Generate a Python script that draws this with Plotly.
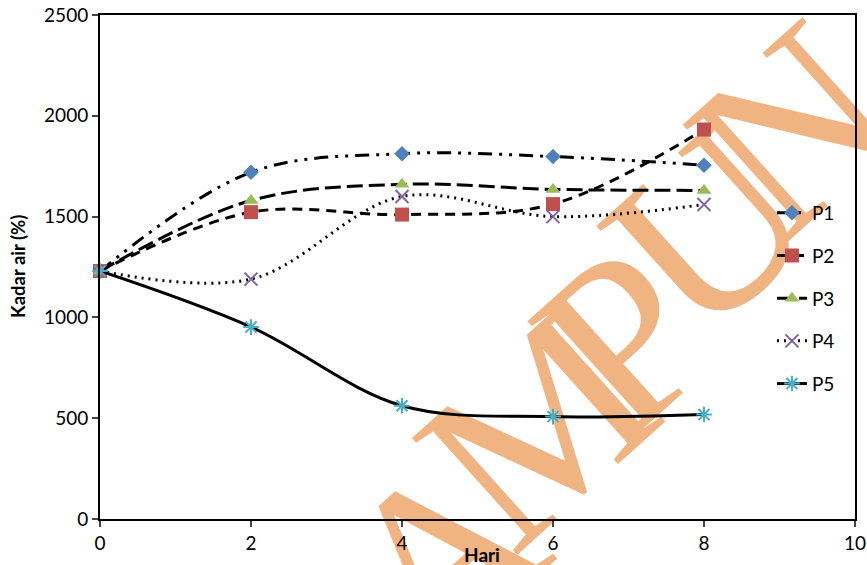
import plotly.graph_objects as go

hari = [0, 2, 4, 6, 8]
series_names = ["P1", "P2", "P3", "P4", "P5"]
p1 = [1230, 1720, 1812, 1798, 1755]
p2 = [1230, 1522, 1510, 1562, 1932]
p3 = [1230, 1580, 1660, 1635, 1630]
p4 = [1230, 1190, 1600, 1500, 1560]
p5 = [1230, 952, 562, 508, 518]
x_ticks = [0, 2, 4, 6, 8, 10]
y_ticks = [0, 500, 1000, 1500, 2000, 2500]

# watermark letters (background stamp in the source image)
wm_letters = ["A", "M", "P", "U", "N", "G"]

values = [p1, p2, p3, p4, p5]
dashes = ["14px,7px,3px,7px,3px,7px", "10px,7px", "16px,6px", "2px,5px", "solid"]
symbols = ["diamond", "square", "triangle-up", "x-thin", "asterisk"]
colors = ["#4F81BD", "#C0504D", "#9BBB59", "#8064A2", "#4BACC6"]
msizes = [12, 14, 13, 13, 13]

FONT = "Lato"
L, T, W0, H0 = 100.0, 15.0, 755.0, 504.0   # plot area in pixels
XR, YR = 10.0, 2500.0

fig = go.Figure()

# watermark drawn as bar-text (bar layer sits beneath the line traces)
wm_px = [(440, 555), (537, 428), (623, 338), (708, 228), (793, 128), (885, 32)]
wm_x = [(px - L) / W0 * XR for px, _ in wm_px]
wm_y = [(T + H0 - py) / H0 * YR for _, py in wm_px]
half_h = [(-v + 20.0) if v < 0 else 20.0 for v in wm_y]
half_w = [(v - XR + 0.03) if v > XR else 0.03 for v in wm_x]
fig.add_trace(go.Bar(
    x=wm_x, y=[2 * h for h in half_h], base=[v - h for v, h in zip(wm_y, half_h)],
    width=[2 * w for w in half_w], text=wm_letters, textposition="inside",
    insidetextanchor="middle", constraintext="none", textangle=-42,
    insidetextfont=dict(family="Liberation Serif", size=240, color="#F0B482"),
    marker=dict(color="rgba(0,0,0,0)", line=dict(width=0)),
    showlegend=False, hoverinfo="skip", cliponaxis=False,
))

for i, (name, vals) in enumerate(zip(series_names, values)):
    thin = symbols[i] in ("x-thin", "asterisk")
    fig.add_trace(go.Scatter(
        x=hari, y=vals, name=name, legendgroup=name,
        mode="lines+markers",
        line=dict(color="black", width=3, dash=dashes[i], shape="spline", smoothing=1.0),
        marker=dict(symbol=symbols[i], size=msizes[i], color=colors[i],
                    line=dict(color=colors[i], width=2 if thin else 0)),
        cliponaxis=False,
    ))

fig.update_layout(
    width=867, height=565,
    margin=dict(l=100, r=12, t=15, b=46, autoexpand=False),
    paper_bgcolor="white", plot_bgcolor="white",
    font=dict(family=FONT, size=19, color="black"),
    showlegend=True, barmode="overlay",
    legend=dict(x=0.89, y=0.645, xanchor="left", yanchor="top",
                bgcolor="rgba(0,0,0,0)", tracegroupgap=15,
                font=dict(family=FONT, size=19, color="black")),
)
fig.update_xaxes(range=[0, XR], tickvals=x_ticks, ticks="outside", ticklen=6, tickwidth=2,
                 showline=True, linecolor="black", linewidth=2, mirror=True,
                 showgrid=False, zeroline=False, tickfont=dict(size=19, family=FONT))
fig.update_yaxes(range=[0, YR], tickvals=y_ticks, ticks="outside", ticklen=6, tickwidth=2,
                 showline=True, linecolor="black", linewidth=2, mirror=True,
                 showgrid=False, zeroline=False, tickfont=dict(size=19, family=FONT))

fig.add_annotation(text="<b>Kadar air (%)</b>", xref="paper", yref="paper",
                   x=-0.1086, y=0.5, textangle=-90, showarrow=False,
                   xanchor="center", yanchor="middle",
                   font=dict(family=FONT, size=18.5, color="black"))
fig.add_annotation(text="<b>Hari</b>", xref="paper", yref="paper",
                   x=0.506, y=-0.0714, showarrow=False,
                   xanchor="center", yanchor="middle",
                   font=dict(family=FONT, size=19, color="black"))

fig.write_html("out.html")
